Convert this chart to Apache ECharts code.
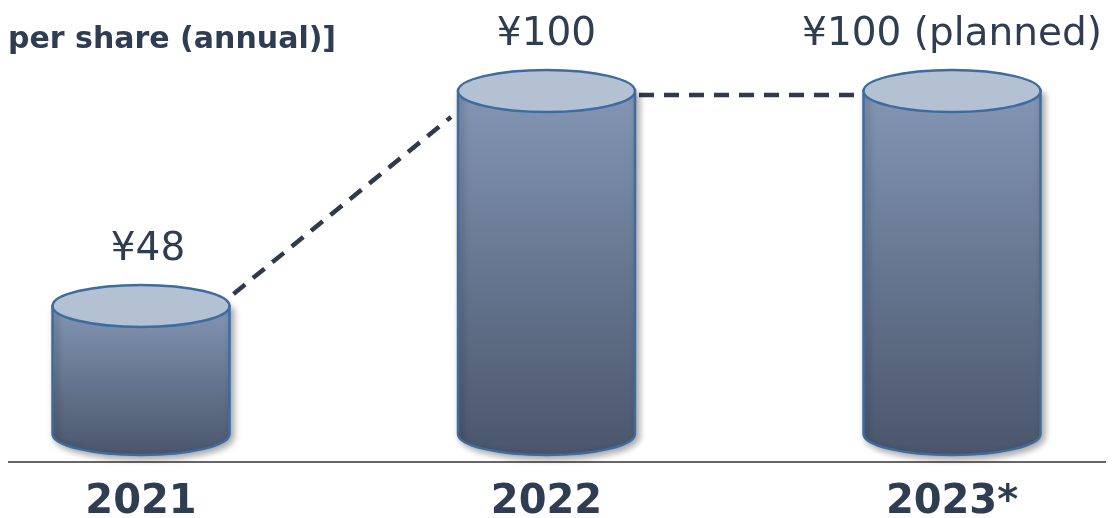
<!DOCTYPE html>
<html>
<head>
<meta charset="utf-8">
<script src="https://cdn.jsdelivr.net/npm/echarts@6/dist/echarts.min.js"></script>
<style>
html,body{margin:0;padding:0;background:#fff;}
#chart{width:1114px;height:518px;}
</style>
</head>
<body>
<div id="chart"></div>
<script>
const categories = ['2021', '2022', '2023*'];
const dividends = [48, 100, 100];
const valueLabels = ['¥48', '¥100', '¥100 (planned)'];
const titleText = 'per share (annual)]';

const TEXT_COLOR = '#2f3d52';
const FONT = '"DejaVu Sans", Verdana, sans-serif';
const Y_MIN = 17;

const chart = echarts.init(document.getElementById('chart'), null, {renderer: 'canvas'});

function renderItem(params, api) {
  const i = params.dataIndex;
  const top = api.coord([api.value(0), api.value(1)]);
  const base = api.coord([api.value(0), Y_MIN]);
  const cx = top[0];
  const w = 177, rx = w / 2, ry = 21;
  const L = cx - rx, R = cx + rx, T = top[1], B = base[1];
  const children = [];

  if (i < dividends.length - 1) {
    const nxt = api.coord([i + 1, dividends[i + 1]]);
    const rise = nxt[1] < T - 1 ? 1 : 0;
    children.push({
      type: 'line',
      shape: {x1: R + 4, y1: T + 4 - 16 * rise, x2: nxt[0] - rx - (rise ? 7 : 2), y2: nxt[1] + 4 + 22 * rise},
      style: {stroke: '#2f3a4d', lineWidth: 4.5, lineDash: [15, 10]}
    });
  }

  children.push({
    type: 'path',
    shape: {pathData: `M${L},${T} L${L},${B} A${rx},${ry} 0 0 0 ${R},${B} L${R},${T} Z`},
    style: {
      fill: new echarts.graphic.LinearGradient(0, 0, 0, 1, [
        {offset: 0, color: '#8396b4'},
        {offset: 1, color: '#4a566c'}
      ]),
      stroke: '#3d6ca0', lineWidth: 2.5,
      shadowBlur: 7, shadowOffsetX: 3, shadowOffsetY: 3, shadowColor: 'rgba(0,0,0,0.35)'
    }
  });
  children.push({
    type: 'path',
    shape: {pathData: `M${L},${T} A${rx},${ry} 0 1 0 ${R},${T} A${rx},${ry} 0 1 0 ${L},${T} Z`},
    style: {fill: '#b4c1d3', stroke: '#3d6ca0', lineWidth: 2.5}
  });
  children.push({
    type: 'text',
    style: {
      text: valueLabels[i], x: cx + (i === 0 ? 7 : 0), y: T - 56,
      align: 'center', verticalAlign: 'middle',
      font: `39px ${FONT}`, fill: TEXT_COLOR
    }
  });
  return {type: 'group', children};
}

const option = {
  animation: false,
  title: {
    text: titleText, left: 3, top: 20,
    textStyle: {fontFamily: FONT, fontWeight: 'bold', fontSize: 30, color: TEXT_COLOR}
  },
  grid: {left: 141, right: 162, top: 91, bottom: 84, outerBoundsMode: 'none', containLabel: false},
  xAxis: {
    type: 'category', data: categories, boundaryGap: false,
    axisLine: {show: false}, axisTick: {show: false}, splitLine: {show: false},
    axisLabel: {margin: 49, fontFamily: FONT, fontWeight: 'bold', fontSize: 40, color: TEXT_COLOR}
  },
  yAxis: {type: 'value', min: Y_MIN, max: 100, show: false, splitLine: {show: false}},
  graphic: [{
    type: 'line', shape: {x1: 8, y1: 462, x2: 1106, y2: 462},
    style: {stroke: '#333', lineWidth: 1.5}, z: 0
  }],
  series: [{
    type: 'custom',
    renderItem,
    clip: false,
    data: dividends.map((v, i) => [i, v])
  }]
};
chart.setOption(option);
</script>
</body>
</html>
